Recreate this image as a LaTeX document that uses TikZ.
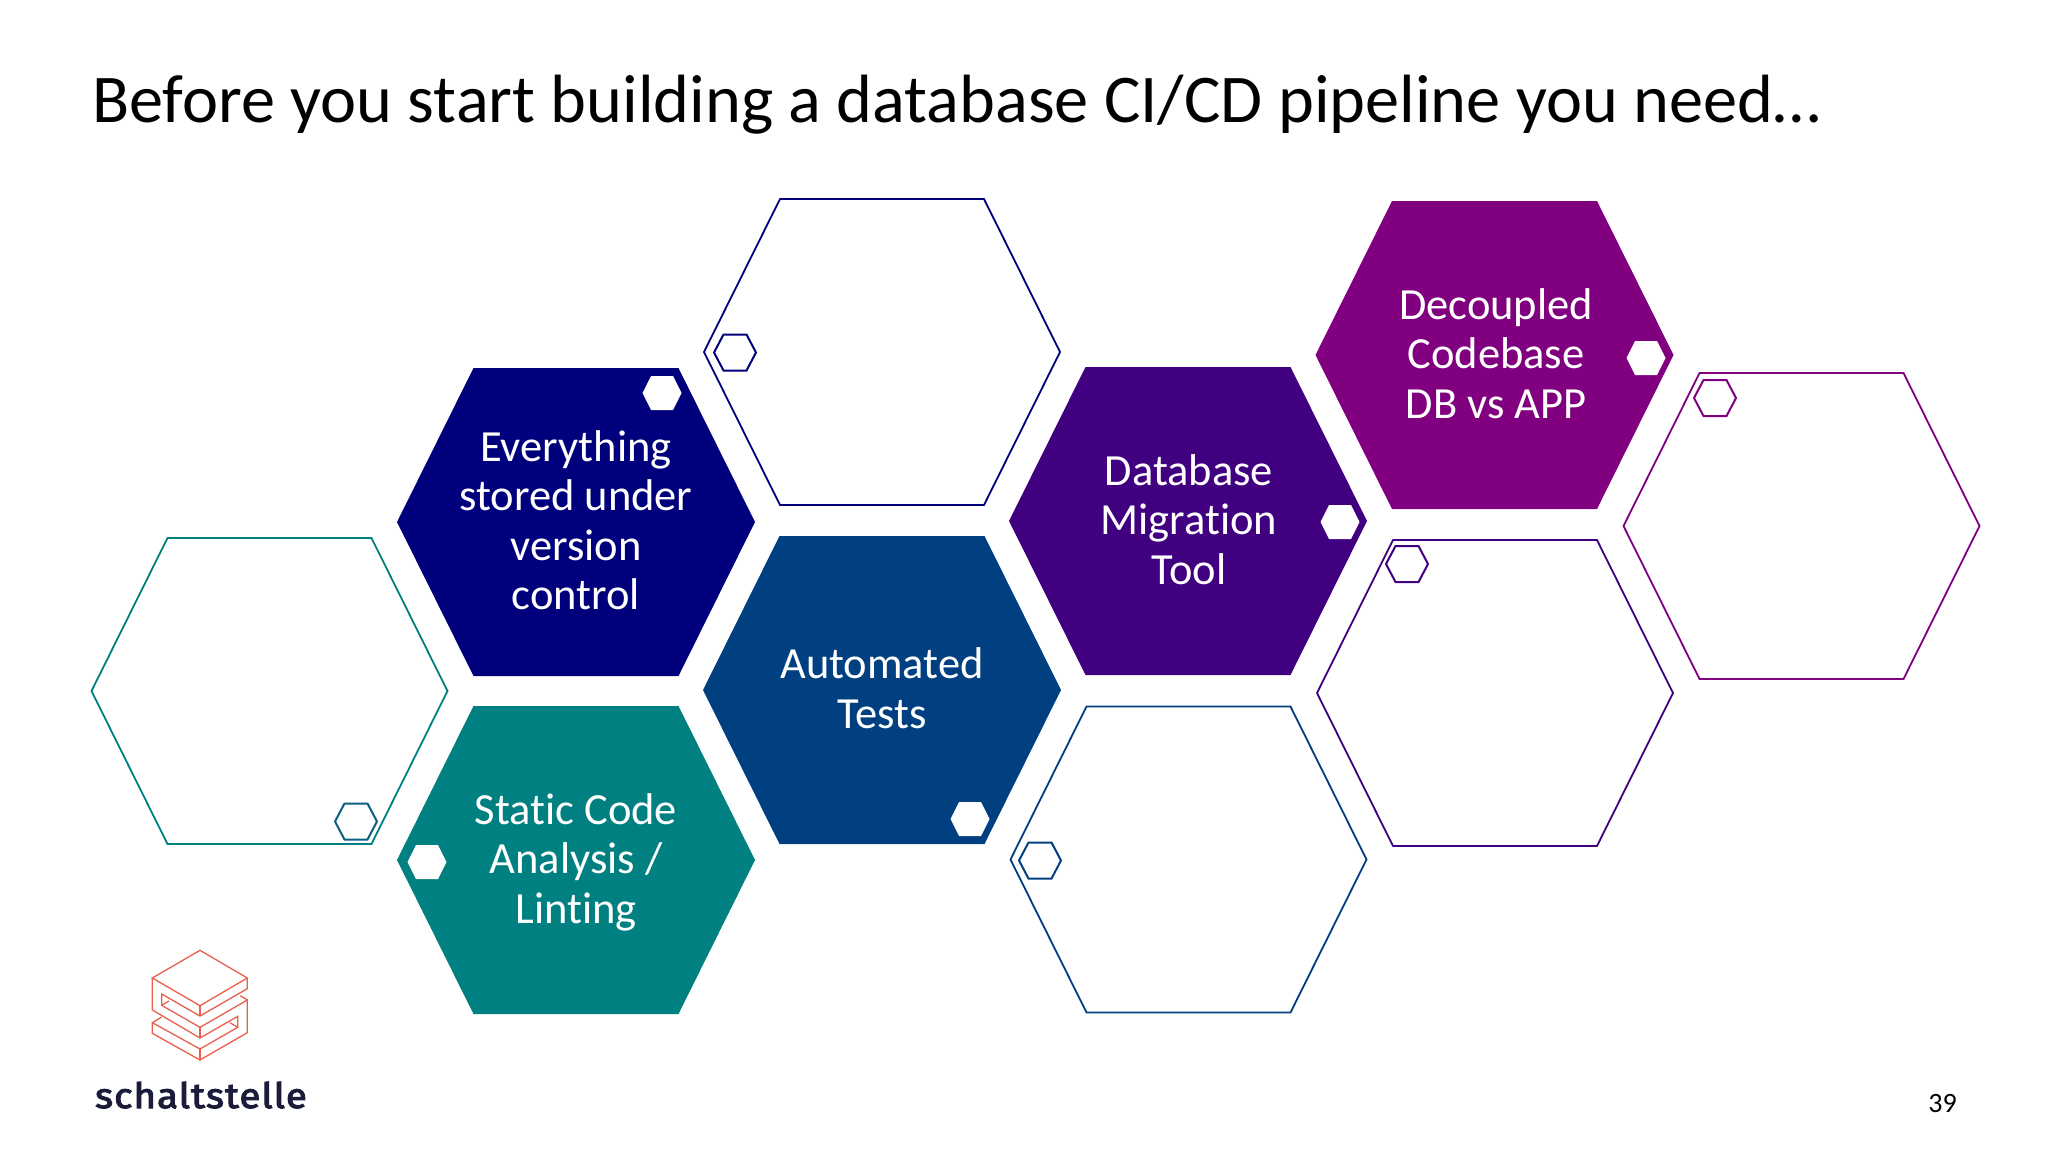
\documentclass[tikz,border=0pt]{standalone}
\usepackage{fontspec}
\setmainfont{Carlito}[Ligatures=NoCommon]
\newfontfamily\logofont{Fira Sans}[FakeStretch=1.1,LetterSpace=3,FakeBold=3]
\definecolor{cNavy}{HTML}{00007C}
\definecolor{cBlue}{HTML}{004080}
\definecolor{cTeal}{HTML}{008080}
\definecolor{cIndigo}{HTML}{400080}
\definecolor{cPurple}{HTML}{800080}
\definecolor{cLogo}{HTML}{E8604C}
\definecolor{cInk}{HTML}{1B1B3A}
\definecolor{cSlate}{HTML}{0B6080}
\newcommand{\hexa}[6]{% style, cx, cy, half width, half top, half height
  \draw[#1] (#2-#4,#3) -- (#2-#5,#3-#6) -- (#2+#5,#3-#6) -- (#2+#4,#3) -- (#2+#5,#3+#6) -- (#2-#5,#3+#6) -- cycle;}
\newcommand{\bighex}[3]{\hexa{#1}{#2}{#3}{179}{102.5}{154}}
\newcommand{\openhex}[3]{\hexa{bigline,draw=#1}{#2}{#3}{178}{102}{153}}
\newcommand{\hexdot}[2]{\hexa{smallfill}{#1}{#2}{19.5}{11}{17}}
\newcommand{\hexring}[3]{\hexa{smallline,draw=#1}{#2}{#3}{21}{11.5}{18}}
\tikzset{
  bigline/.style={line width=1.8pt,fill=white,line join=miter},
  bigfill/.style={fill=#1,draw=none},
  smallfill/.style={fill=white,draw=none},
  smallline/.style={line width=2pt,fill=white},
  label/.style={text=white,font=\fontsize{44.5}{49.3}\selectfont,align=center,anchor=base},
  logoline/.style={draw=cLogo,line width=1.3pt,line join=miter}
}
\begin{document}
\begin{tikzpicture}[x=1pt,y=-1pt]
\useasboundingbox (0,0) rectangle (2048,1152);
\fill[white] (0,0) rectangle (2048,1152);

\node[anchor=base west,inner sep=0pt,font=\fontsize{68.3}{72}\selectfont,text=black] (title) at (92,122.3) {Before you start building a database CI/CD pipeline you need…};

% outline hexagons
\openhex{cTeal}{269.5}{691}
\openhex{cNavy}{882}{352}
\openhex{cBlue}{1188.5}{859.5}
\openhex{cIndigo}{1495}{693}
\openhex{cPurple}{1801.5}{526}

% filled hexagons
\bighex{bigfill=cNavy}{576}{522}
\bighex{bigfill=cTeal}{576}{860}
\bighex{bigfill=cBlue}{882}{690}
\bighex{bigfill=cIndigo}{1188}{521}
\bighex{bigfill=cPurple}{1494.5}{355}

% small hexagons
\hexdot{662}{393}
\hexdot{427}{862}
\hexdot{970}{819}
\hexdot{1340}{522}
\hexdot{1646}{358}
\hexring{cSlate}{356}{821.5}
\hexring{cNavy}{735}{352.5}
\hexring{cBlue}{1040}{860.5}
\hexring{cIndigo}{1407}{564}
\hexring{cPurple}{1715}{398}

% labels
\node[label] (vc) at (576,609.3) {Everything\\stored under\\version\\control};
\node[label] (sc) at (576,923) {Static Code\\Analysis /\\Linting};
\node[label] (at) at (882,728) {Automated\\Tests};
\node[label] (db) at (1189,584) {Database\\Migration\\Tool};
\node[label] (dc) at (1496,418) {Decoupled\\Codebase\\DB vs APP};

% page number
\node[anchor=base,inner sep=0pt,font=\fontsize{28}{30}\selectfont,text=black] (page) at (1942.5,1112) {39};

% logo
\begin{scope}[shift={(140,945)},x=0.3333pt,y=-0.3333pt]
\draw[logoline] (180,16) -- (322,99) -- (180,182) -- (37,99) -- cycle;
\draw[logoline] (180,182) -- (180,213);
\draw[logoline] (322,99) -- (322,131) -- (180,213) -- (65,147) -- (65,181) -- (180,247) -- (322,165) -- (322,263) -- (180,345) -- (37,265) -- (37,233) -- (180,312) -- (293,247) -- (293,214) -- (180,279) -- (37,195) -- (37,99);
\draw[logoline] (180,247) -- (180,279);
\draw[logoline] (180,312) -- (180,345);
\draw[logoline] (65,181) -- (87,168);
\draw[logoline] (293,247) -- (270,233);
\draw[logoline] (322,165) -- (301,152);
\draw[logoline] (37,233) -- (65,216);
\end{scope}
\node[anchor=base,inner sep=0pt,font=\logofont\fontsize{35}{38}\selectfont,text=cInk] (logo) at (201,1108) {schaltstelle};
\end{tikzpicture}
\end{document}
